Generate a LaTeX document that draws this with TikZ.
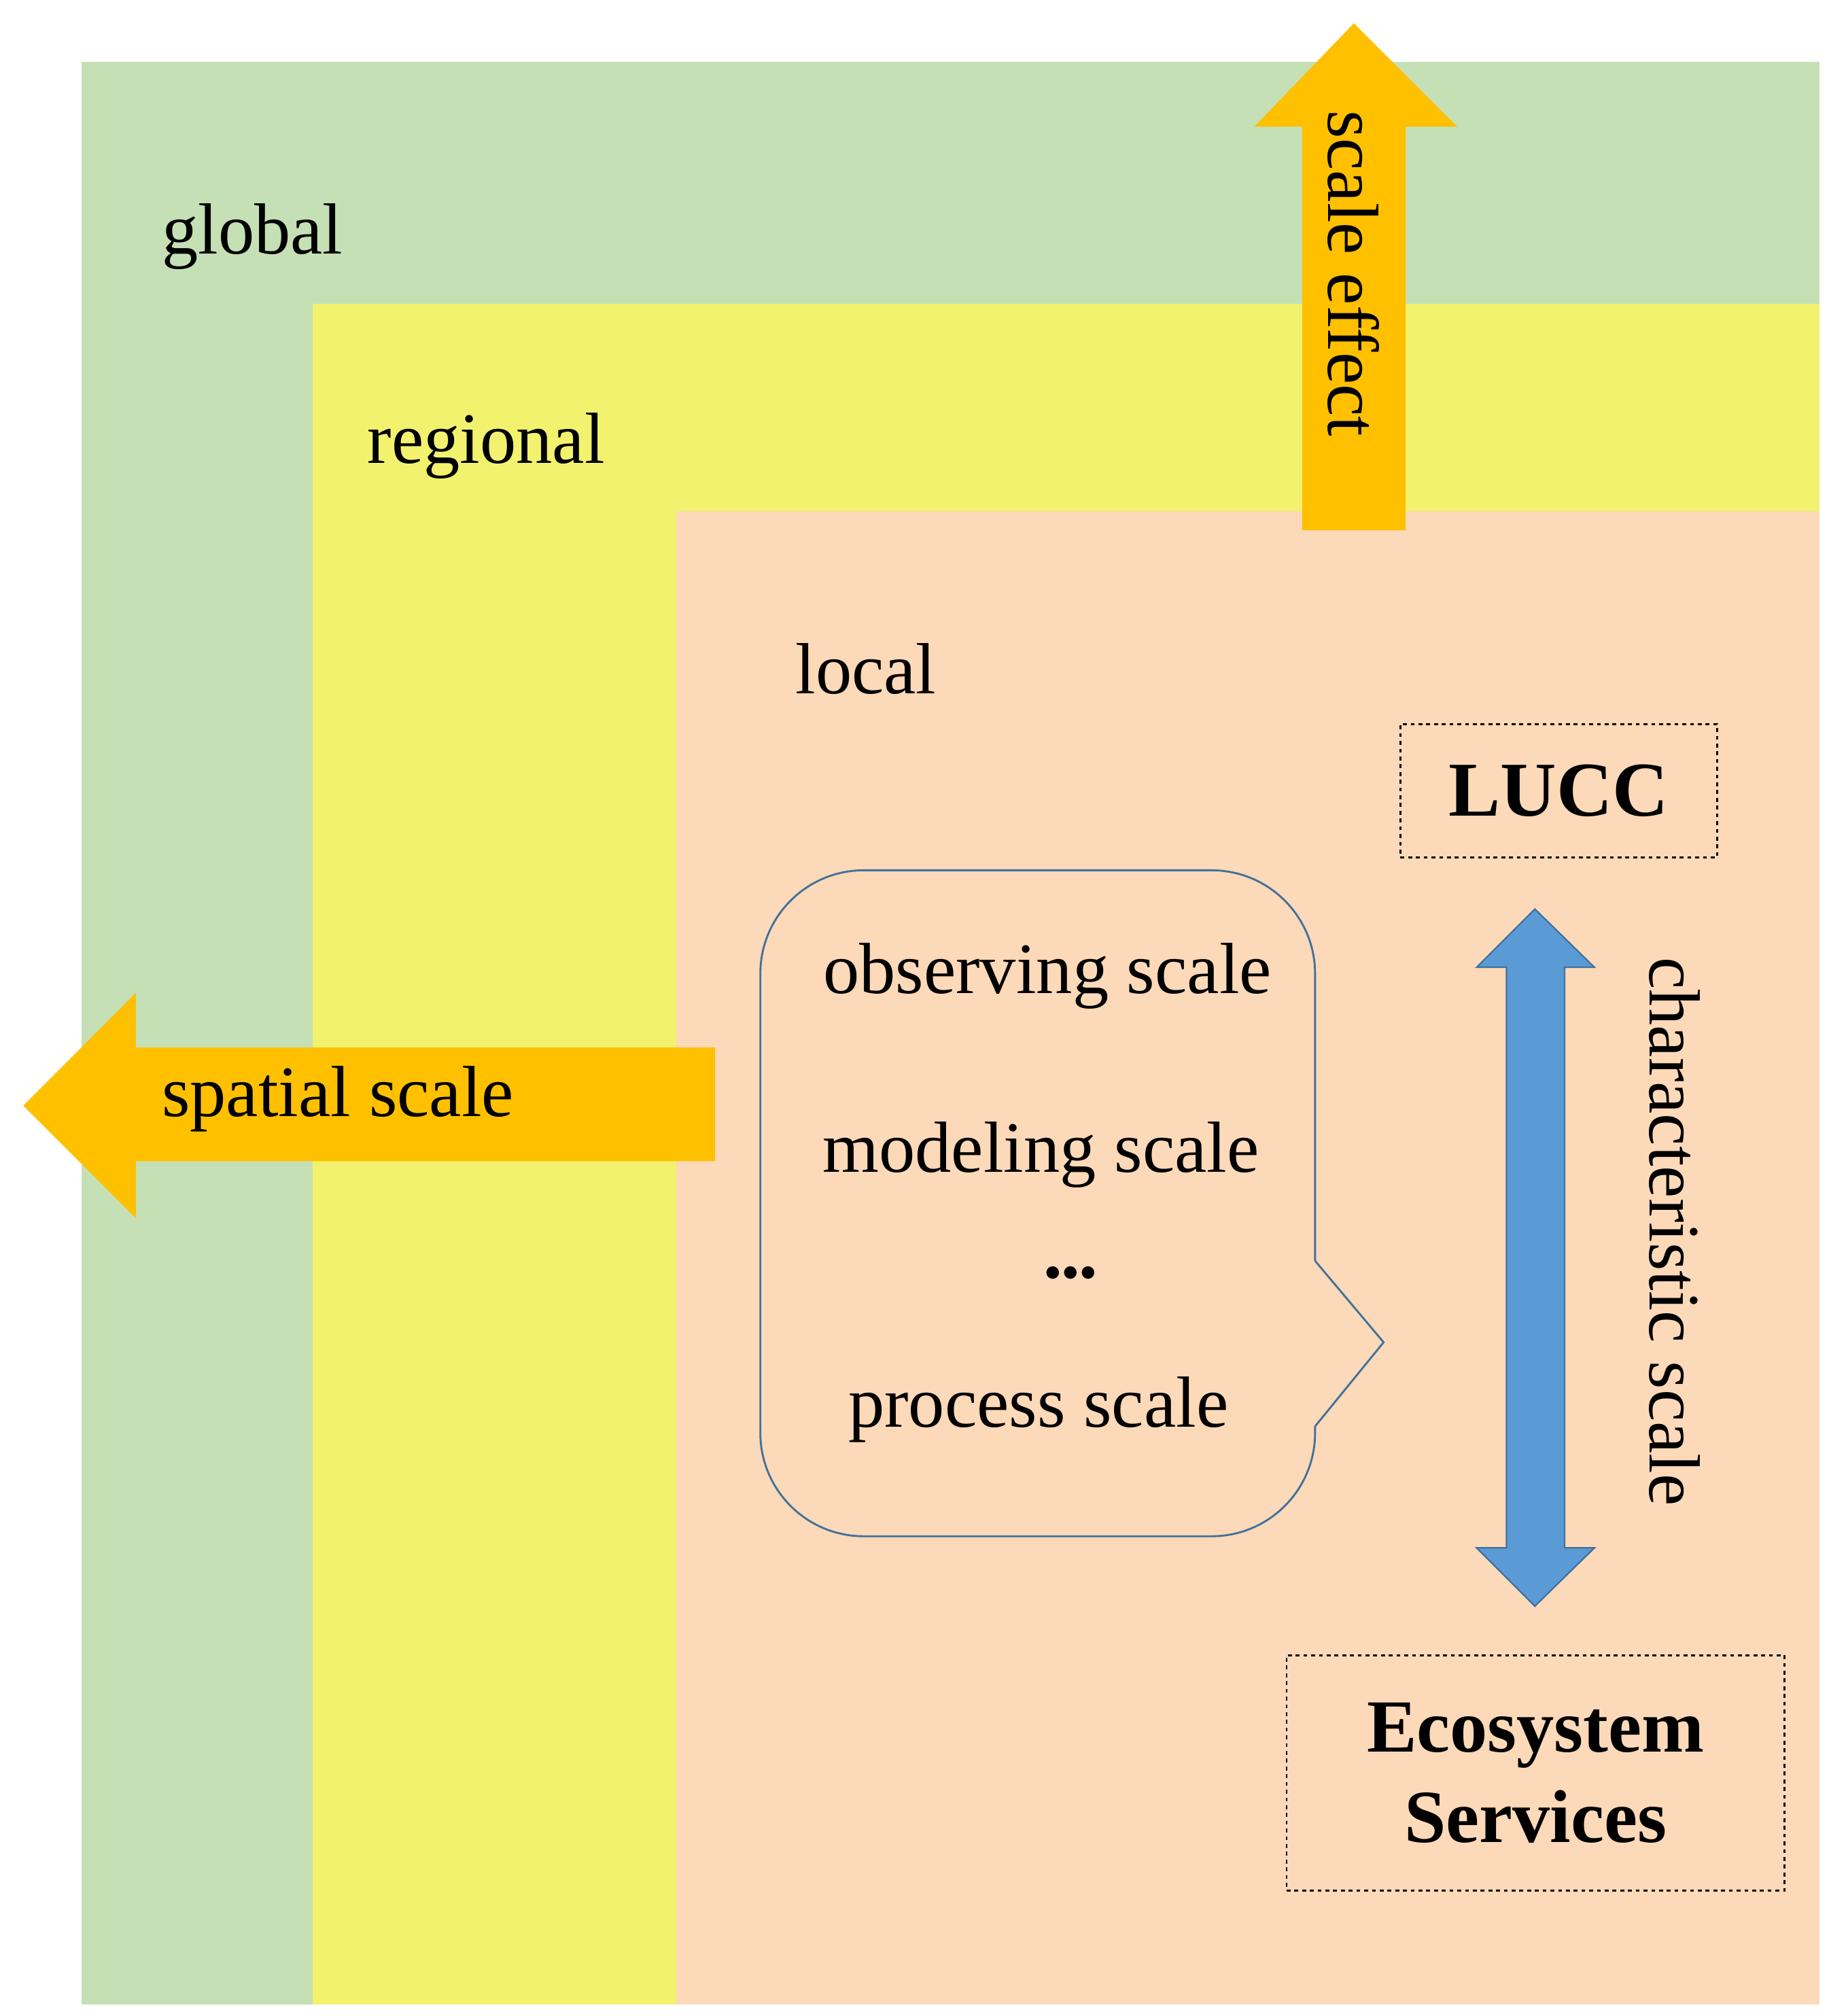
\documentclass[tikz,border=0pt]{standalone}
\usepackage{fontspec}
\setmainfont{Liberation Serif}
\usetikzlibrary{shapes.arrows}
\definecolor{gr}{HTML}{C5E0B4}
\definecolor{ye}{HTML}{F2F26E}
\definecolor{pe}{HTML}{FCD9B8}
\definecolor{orng}{HTML}{FFC000}
\definecolor{bl}{HTML}{5B9BD5}
\definecolor{bld}{HTML}{41719C}
\tikzset{lbl/.style={font=\fontsize{56}{60}\selectfont,inner sep=0pt},
 dbox/.style={draw,dashed,line width=1.5pt,minimum width=245pt}}
\begin{document}
\begin{tikzpicture}[x=1pt,y=-1pt]
\useasboundingbox (0,0) rectangle (1414,1559);
\fill[white] (0,0) rectangle (1414,1559);
\fill[gr] (63,48) rectangle (1407,1550);
\fill[ye] (242,235) rectangle (1407,1550);
\fill[pe] (523,395) rectangle (1407,1550);
% scale effect arrow
\fill[orng] (1007,410) -- (1007,98) -- (970,98) -- (1047,18) -- (1127,98) -- (1087,98) -- (1087,410) -- cycle;
\node[lbl,rotate=-90,anchor=west] (se) at (1047,85) {scale effect};
% spatial scale arrow
\fill[orng] (553,810) -- (105,810) -- (105,768) -- (18,855) -- (105,942) -- (105,898) -- (553,898) -- cycle;
\node[lbl,anchor=west] (ss) at (125,850) {spatial scale};
\node[lbl,anchor=west] (g) at (125,183) {global};
\node[lbl,anchor=west] (r) at (284,345) {regional};
\node[lbl,anchor=west] (l) at (615,517) {local};
% callout
\draw[bld,line width=1.5pt,rounded corners=80pt] (1017,975) -- (1017,673) -- (588,673) -- (588,1188) -- (1017,1188) -- (1017,1103);
\draw[bld,line width=1.5pt] (1017,1103) -- (1070,1038) -- (1017,975);
\node[lbl] (o) at (810,755) {observing scale};
\node[lbl] (m) at (805,893) {modeling scale};
\node[lbl] (d) at (828,985) {$\bullet\!\bullet\!\bullet$};
\node[lbl] (p) at (803,1090) {process scale};
% double arrow
\draw[bld,fill=bl,line width=1.2pt] (1187,703) -- (1233,748) -- (1210,748) -- (1210,1197) -- (1233,1197) -- (1187,1242) -- (1142,1197) -- (1165,1197) -- (1165,748) -- (1142,748) -- cycle;
\node[lbl,rotate=-90,anchor=west] (cs) at (1295,740) {characteristic scale};
\node[dbox,minimum width=245pt,minimum height=103pt,font=\fontsize{60}{64}\selectfont\bfseries] (lucc) at (1205.5,611.5) {LUCC};
\node[dbox,minimum width=385pt,minimum height=182pt,font=\fontsize{58}{70}\selectfont\bfseries,align=center] (es) at (1187.5,1371) {Ecosystem\\Services};
\end{tikzpicture}
\end{document}
